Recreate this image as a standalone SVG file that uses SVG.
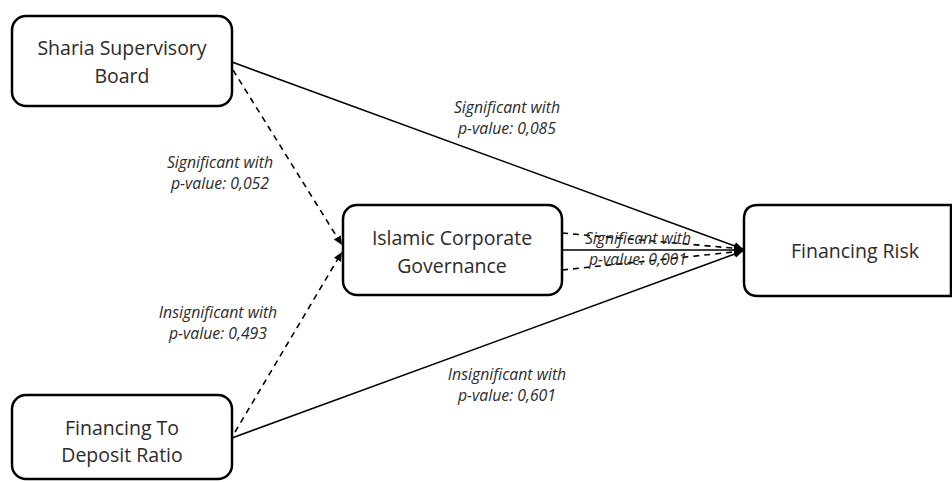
<svg xmlns="http://www.w3.org/2000/svg" width="952" height="482" viewBox="0 0 952 482">
<defs>
<style>
.box{fill:#fff;stroke:#000;stroke-width:2.5}
.node{font-family:"Open Sans","Liberation Sans",sans-serif;font-size:19.5px;fill:#2b2b2b;text-anchor:middle}
.lbl{font-family:"Open Sans","Liberation Sans",sans-serif;font-size:15.8px;font-style:italic;fill:#2b2b2b;text-anchor:middle}
.solid{stroke:#000;stroke-width:1.6;fill:none}
.dash{stroke:#000;stroke-width:1.6;fill:none;stroke-dasharray:6,5}
</style>
<marker id="ah" markerWidth="10" markerHeight="10" refX="9" refY="5" orient="auto" markerUnits="userSpaceOnUse">
<path d="M0,1 L9,5 L0,9 Z" fill="#000"/>
</marker>
</defs>
<rect width="952" height="482" fill="#fff"/>
<g id="connectors">
<line class="solid" x1="232" y1="62" x2="743" y2="249" marker-end="url(#ah)"/>
<line class="solid" x1="232" y1="438" x2="743" y2="251" marker-end="url(#ah)"/>
<line class="solid" x1="562" y1="250" x2="743" y2="250" marker-end="url(#ah)"/>
<path class="dash" d="M562,233 L743,249" marker-end="url(#ah)"/>
<path class="dash" d="M562,270 L743,251" marker-end="url(#ah)"/>
<path class="dash" d="M233,70 L342,245" marker-end="url(#ah)"/>
<path class="dash" d="M235,432 L342,252" marker-end="url(#ah)"/>
</g>
<g id="labels">
<text class="lbl" x="507" y="113">Significant with</text>
<text class="lbl" x="507" y="134">p-value: 0,085</text>
<text class="lbl" x="220" y="168">Significant with</text>
<text class="lbl" x="220" y="189">p-value: 0,052</text>
<text class="lbl" x="218" y="318">Insignificant with</text>
<text class="lbl" x="218" y="339">p-value: 0,493</text>
<text class="lbl" x="507" y="380">Insignificant with</text>
<text class="lbl" x="507" y="401">p-value: 0,601</text>
<text class="lbl" x="638" y="244">Significant with</text>
<text class="lbl" x="638" y="265">p-value: 0,001</text>
</g>
<g id="node-ssb">
<rect class="box" x="12" y="16" width="220" height="90" rx="14"/>
<text class="node" x="122" y="55">Sharia Supervisory</text>
<text class="node" x="122" y="83">Board</text>
</g>
<g id="node-icg">
<rect class="box" x="343" y="205" width="219" height="90" rx="14"/>
<text class="node" x="452" y="245">Islamic Corporate</text>
<text class="node" x="452" y="273">Governance</text>
</g>
<g id="node-fdr">
<rect class="box" x="12" y="395" width="220" height="84" rx="14"/>
<text class="node" x="122" y="435">Financing To</text>
<text class="node" x="122" y="462">Deposit Ratio</text>
</g>
<g id="node-fr">
<path class="box" d="M758,205 L951,205 L951,296 L758,296 Q744,296 744,282 L744,219 Q744,205 758,205 Z"/>
<text class="node" x="855" y="258">Financing Risk</text>
</g>
</svg>
